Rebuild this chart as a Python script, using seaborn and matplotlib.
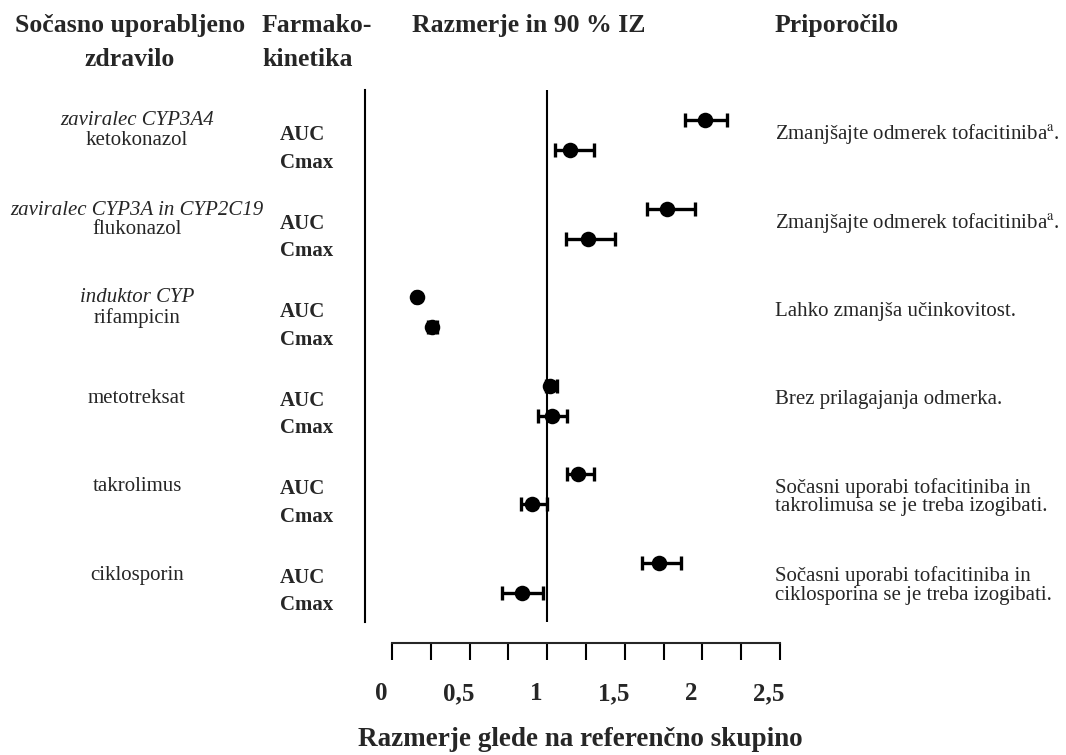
# Forest plot - tofacitinib drug interactions

import pandas as pd
import numpy as np
import matplotlib.pyplot as plt
import matplotlib.transforms as mtransforms
import seaborn as sns

# Data
drug_class = ["zaviralec CYP3A4", "zaviralec CYP3A in CYP2C19", "induktor CYP", "", "", ""]
drug_name = ["ketokonazol", "flukonazol", "rifampicin", "metotreksat", "takrolimus", "ciklosporin"]
auc_ratio = [2.02, 1.77, 0.16, 1.02, 1.20, 1.72]
auc_low = [1.89, 1.64, 0.15, 0.99, 1.13, 1.61]
auc_high = [2.16, 1.95, 0.17, 1.06, 1.30, 1.86]
cmax_ratio = [1.15, 1.26, 0.26, 1.03, 0.90, 0.84]
cmax_low = [1.05, 1.12, 0.23, 0.94, 0.83, 0.71]
cmax_high = [1.30, 1.44, 0.29, 1.13, 1.00, 0.97]
advice = ["Zmanjšajte odmerek tofacitiniba$^{\\mathrm{a}}$.",
          "Zmanjšajte odmerek tofacitiniba$^{\\mathrm{a}}$.",
          "Lahko zmanjša učinkovitost.",
          "Brez prilagajanja odmerka.",
          "Sočasni uporabi tofacitiniba in\ntakrolimusa se je treba izogibati.",
          "Sočasni uporabi tofacitiniba in\nciklosporina se je treba izogibati."]
tick_vals = [0, 0.5, 1, 1.5, 2, 2.5]
tick_labels = ["0", "0,5", "1", "1,5", "2", "2,5"]

# vertical offsets of the two name lines (layout only)
class_dy = [0.0, 0.02, 0.0, 0, 0, 0]
name_dy = [0.23, 0.24, 0.24, 0.14, 0.14, 0.14]

n = len(drug_name)
groups = np.arange(n)
df = pd.DataFrame({
    "ratio": auc_ratio + cmax_ratio,
    "low": auc_low + cmax_low,
    "high": auc_high + cmax_high,
    "pos": list(groups) + list(groups + 0.34),
})

sns.set_style("white")
plt.rcParams['font.family'] = ['Liberation Serif', 'DejaVu Serif']
plt.rcParams['mathtext.fontset'] = 'stix'

fig = plt.figure(figsize=(10.66, 7.55), dpi=100)
ax = fig.add_axes([0.3424, 0.1762, 0.3893, 0.7046])

ax.errorbar(df["ratio"], df["pos"],
            xerr=[df["ratio"] - df["low"], df["high"] - df["ratio"]],
            fmt="none", ecolor="black", elinewidth=2.4, capsize=5, capthick=2.4)
sns.scatterplot(data=df, x="ratio", y="pos", color="black", s=125,
                edgecolor="black", linewidth=0, ax=ax, zorder=3)
ax.axvline(1, color="black", lw=1.5)

ax.set_xlim(-27 / 155.2, 2.5)
ax.set_ylim(5.67, -0.34)
ax.set_xticks([])
ax.set_yticks([])
ax.set_xlabel("")
ax.set_ylabel("")
for s in ["top", "right", "bottom"]:
    ax.spines[s].set_visible(False)
ax.spines["left"].set_color("black")
ax.spines["left"].set_linewidth(1.5)

# bottom scale
bx = fig.add_axes([0.3677, 0.1483, 0.3640, 0.0001])
bx.set_xlim(0, 2.5)
bx.set_yticks([])
for s in ["top", "right", "left"]:
    bx.spines[s].set_visible(False)
bx.spines["bottom"].set_linewidth(1.5)
bx.set_xticks(tick_vals)
bx.set_xticklabels(tick_labels, fontsize=18, fontweight="bold")
bx.set_xticks(np.arange(0.25, 2.5, 0.5), minor=True)
bx.tick_params(axis="x", which="both", direction="out", length=12, width=1.5,
               color="black", pad=16, bottom=True)
shift = mtransforms.ScaledTranslation(-11 / 100, 0, fig.dpi_scale_trans)
for lab in bx.get_xticklabels():
    lab.set_transform(lab.get_transform() + shift)

fig.text(580 / 1066, 1 - 740 / 755, "Razmerje glede na referenčno skupino",
         ha="center", va="center", fontsize=19.5, fontweight="bold")

# headers
hdr = dict(fontsize=18.5, fontweight="bold", va="top")
fig.text(130 / 1066, 1 - 14 / 755, "Sočasno uporabljeno\nzdravilo", ha="center",
         linespacing=1.6, **hdr)
fig.text(262 / 1066, 1 - 14 / 755, "Farmako-\nkinetika", ha="left", linespacing=1.6, **hdr)
fig.text(412 / 1066, 1 - 14 / 755, "Razmerje in 90 % IZ", ha="left", **hdr)
fig.text(775 / 1066, 1 - 14 / 755, "Priporočilo", ha="left", **hdr)

# row labels
tr = mtransforms.blended_transform_factory(fig.transFigure, ax.transData)
for i in range(n):
    if drug_class[i]:
        ax.text(137 / 1066, i + class_dy[i], drug_class[i], transform=tr, ha="center",
                va="center", fontsize=15, style="italic")
    ax.text(137 / 1066, i + name_dy[i], drug_name[i], transform=tr, ha="center",
            va="center", fontsize=15)
    ax.text(280 / 1066, i + 0.17, "AUC", transform=tr, ha="left", va="center",
            fontsize=15, fontweight="bold")
    ax.text(280 / 1066, i + 0.48, "Cmax", transform=tr, ha="left", va="center",
            fontsize=15, fontweight="bold")
    ax.text(775 / 1066, i + 0.16 if "\n" not in advice[i] else i + 0.26, advice[i],
            transform=tr, ha="left", va="center", fontsize=15, linespacing=0.95)

fig.savefig("out.png", dpi=100)
